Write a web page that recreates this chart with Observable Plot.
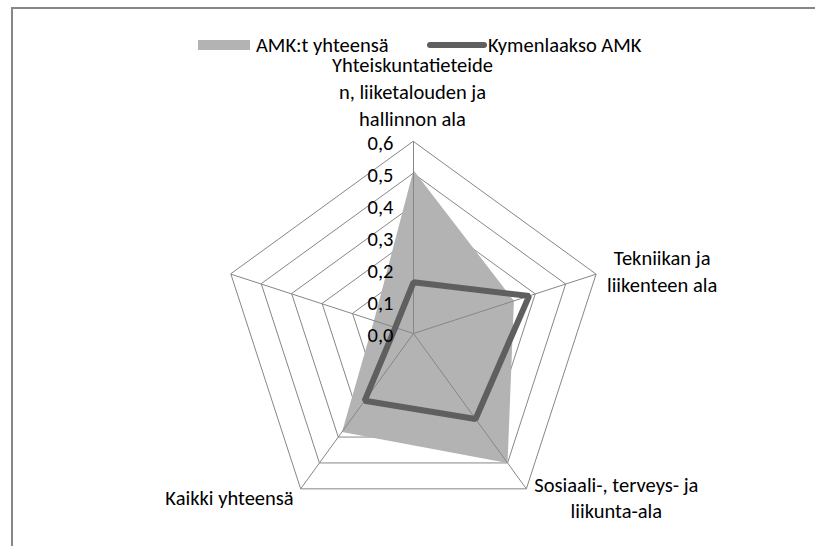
<!DOCTYPE html>
<html>
<head>
<meta charset="utf-8">
<script src="https://cdn.jsdelivr.net/npm/d3@7"></script>
<script src="https://cdn.jsdelivr.net/npm/@observablehq/plot@0.6"></script>
<style>
  body { margin: 0; background: #fff; }
  #wrap { position: relative; width: 815px; height: 546px; overflow: hidden; background: #fff;
          font-family: Carlito, Lato, sans-serif; color: #000; }
  #frame { position: absolute; left: 11px; top: 7px; width: 830px; height: 560px;
           border-top: 2px solid #878787; border-left: 2px solid #878787; }
  .lg { position: absolute; font-size: 20.5px; line-height: 16px; white-space: nowrap; }
  #chart { position: absolute; left: 0; top: 54px; }
</style>
</head>
<body>
<div id="wrap">
  <div id="frame"></div>
  <div id="legend"></div>
  <div id="chart"></div>
</div>
<script>
// ---- data ----
const categories = [
  "Yhteiskuntatieteide\nn, liiketalouden ja\nhallinnon ala",
  "Tekniikan ja\nliikenteen ala",
  "Sosiaali-, terveys- ja\nliikunta-ala",
  "Kaikki yhteensä",
  ""
];
const seriesNames = ["AMK:t yhteensä", "Kymenlaakso AMK"];
const amkYhteensa = [0.51, 0.33, 0.50, 0.38, 0.13];
const kymenlaakso = [0.16, 0.38, 0.33, 0.26, 0.06];
const ticks = [0, 0.1, 0.2, 0.3, 0.4, 0.5, 0.6];
const tickLabels = ["0,0", "0,1", "0,2", "0,3", "0,4", "0,5", "0,6"];

// ---- geometry helpers ----
const n = categories.length;
const rMax = 0.6;
const ang = i => (i * 2 * Math.PI) / n;
const px = (i, r) => r * Math.sin(ang(i));
const py = (i, r) => r * Math.cos(ang(i));
const idx = d3.range(n);

const rings = ticks.filter(t => t > 0).flatMap(t => idx.map(i => ({level: t, x: px(i, t), y: py(i, t)})));
const poly = vals => vals.map((v, i) => ({x: px(i, v), y: py(i, v)}));
const amkPts = poly(amkYhteensa);
const kymPts = poly(kymenlaakso);
const tickData = ticks.map((t, k) => ({v: t, label: tickLabels[k]}));
const catData = categories.map((c, i) => ({i, label: c, x: px(i, rMax), y: py(i, rMax)}));

// ---- colours / layout ----
const gridColor = "#868686";
const fillColor = "#b3b3b3";
const lineColor = "#5f5f5f";
const FS = 20.5;
const W = 815, H = 492, CX = 413, CY = 279, K = 320; // pixels per unit

const labelOpts = [
  {dx: -1, dy: -51, textAnchor: "middle", lineHeight: 1.3},
  {dx: 66, dy: -4, textAnchor: "middle", lineHeight: 1.28},
  {dx: 90, dy: 8, textAnchor: "middle", lineHeight: 1.28},
  {dx: -7, dy: 8, textAnchor: "end", lineHeight: 1.28},
  {dx: 0, dy: 0, textAnchor: "middle", lineHeight: 1.28}
];

const chart = Plot.plot({
  width: W,
  height: H,
  margin: 0,
  x: {domain: [-CX / K, (W - CX) / K], axis: null},
  y: {domain: [-(H - CY) / K, CY / K], axis: null},
  style: {fontFamily: "Carlito, Lato, sans-serif", background: "transparent", overflow: "visible"},
  marks: [
    Plot.line(rings, {x: "x", y: "y", z: "level", stroke: gridColor, strokeWidth: 1, curve: "linear-closed"}),
    Plot.line(amkPts, {x: "x", y: "y", fill: fillColor, stroke: "none", curve: "linear-closed"}),
    Plot.link(catData, {x1: 0, y1: 0, x2: "x", y2: "y", stroke: gridColor, strokeWidth: 1}),
    Plot.line(kymPts, {x: "x", y: "y", stroke: lineColor, strokeWidth: 6, curve: "linear-closed", strokeLinejoin: "miter"}),
    Plot.text(tickData, {x: 0, y: "v", text: "label", textAnchor: "end", dx: -20, dy: 2, fontSize: FS, fill: "#000"}),
    ...catData.map((d, i) => Plot.text([d], {
      x: "x", y: "y", text: "label", fontSize: FS, lineAnchor: "middle", fill: "#000",
      ...labelOpts[i]
    }))
  ]
});
document.getElementById("chart").appendChild(chart);

// ---- legend ----
const legend = document.getElementById("legend");
legend.innerHTML = `
  <div style="position:absolute;left:198px;top:40px;width:52px;height:10px;background:${fillColor}"></div>
  <div class="lg" style="left:256px;top:37px">${seriesNames[0]}</div>
  <div style="position:absolute;left:427px;top:42px;width:60px;height:6px;border-radius:3px;background:${lineColor}"></div>
  <div class="lg" style="left:488px;top:37px">${seriesNames[1]}</div>
`;
</script>
</body>
</html>
